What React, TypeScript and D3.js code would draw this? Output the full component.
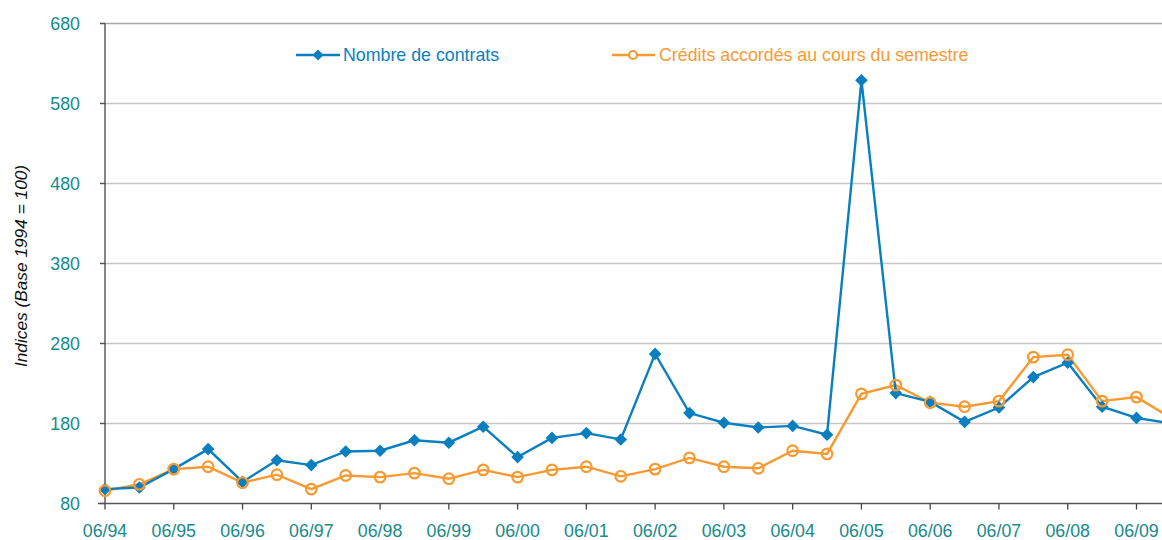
import React from "react";
import * as d3 from "d3";

const periods = [
  "06/94","12/94","06/95","12/95","06/96","12/96","06/97","12/97","06/98","12/98",
  "06/99","12/99","06/00","12/00","06/01","12/01","06/02","12/02","06/03","12/03",
  "06/04","12/04","06/05","12/05","06/06","12/06","06/07","12/07","06/08","12/08",
  "06/09","12/09",
];
const contrats = [
  98, 100, 123, 148, 107, 134, 128, 145, 146, 159,
  156, 176, 138, 162, 168, 160, 267, 193, 181, 175,
  177, 166, 609, 218, 207, 182, 200, 238, 256, 201,
  187, 180,
];
const credits = [
  96, 104, 123, 126, 106, 116, 98, 115, 113, 118,
  111, 122, 113, 122, 126, 114, 123, 137, 126, 124,
  146, 142, 217, 228, 206, 201, 208, 263, 266, 208,
  213, 187,
];
const yTicks = [80, 180, 280, 380, 480, 580, 680];
const xTickLabels = ["06/94","06/95","06/96","06/97","06/98","06/99","06/00","06/01","06/02","06/03","06/04","06/05","06/06","06/07","06/08","06/09"];
const seriesNames = ["Nombre de contrats", "Crédits accordés au cours du semestre"];

const W = 1162;
const H = 540;
const BLUE = "#0a7fc0";
const ORANGE = "#f89a32";
const TEAL = "#178a8a";
const FONT = "'Liberation Sans', Arial, sans-serif";

export default function App() {
  const x = d3.scaleLinear().domain([0, 30]).range([105, 1136.5]);
  const y = d3.scaleLinear().domain([80, 680]).range([503.5, 23.5]);
  const line = d3
    .line<number>()
    .x((_, i) => x(i))
    .y((d) => y(d));
  const diamond = (cx: number, cy: number, r: number) =>
    `M${cx},${cy - r}L${cx + r},${cy}L${cx},${cy + r}L${cx - r},${cy}Z`;

  return (
    <svg
      width={W}
      height={H}
      style={{ position: "absolute", left: 0, top: 0, background: "#fff" }}
      fontFamily={FONT}
    >
      <defs>
        <clipPath id="plot">
          <rect x={0} y={0} width={W} height={H} />
        </clipPath>
      </defs>
      {/* gridlines */}
      {yTicks.map((t) => (
        <g key={t}>
          {t !== 80 && (
            <line x1={100} x2={W} y1={y(t)} y2={y(t)} stroke={t === 680 ? "#a8a8a8" : "#c6c6c6"} strokeWidth={1.3} />
          )}
          <line x1={100} x2={105} y1={y(t)} y2={y(t)} stroke="#555" strokeWidth={1.3} />
          <text x={80} y={y(t)} textAnchor="end" dominantBaseline="central" fill={TEAL} fontSize={17.8}>
            {t}
          </text>
        </g>
      ))}
      {/* axes */}
      <line x1={105} x2={105} y1={y(680)} y2={y(80)} stroke="#444" strokeWidth={1.3} />
      <line x1={98} x2={W} y1={y(80)} y2={y(80)} stroke="#555" strokeWidth={1.6} />
      {xTickLabels.map((lab, k) => (
        <g key={lab}>
          <line x1={x(k * 2)} x2={x(k * 2)} y1={y(80)} y2={y(80) + 6} stroke="#444" strokeWidth={1.3} />
          <text x={x(k * 2)} y={531} textAnchor="middle" dominantBaseline="central" fill={TEAL} fontSize={17.8}>
            {lab}
          </text>
        </g>
      ))}
      <text
        transform={`translate(21,266) rotate(-90)`}
        textAnchor="middle"
        dominantBaseline="central"
        fontStyle="italic"
        fontSize={17.3}
        fill="#111"
      >
        Indices (Base 1994 = 100)
      </text>

      {/* series */}
      <g clipPath="url(#plot)">
        <path d={line(credits) || ""} fill="none" stroke={ORANGE} strokeWidth={2.4} />
        <path d={line(contrats) || ""} fill="none" stroke={BLUE} strokeWidth={2.4} />
        {contrats.map((v, i) => (
          <path key={"b" + i} d={diamond(x(i), y(v), 6.3)} fill={BLUE} />
        ))}
        {credits.map((v, i) => (
          <circle key={"o" + i} cx={x(i)} cy={y(v)} r={5.3} fill="none" stroke={ORANGE} strokeWidth={2.2} />
        ))}
      </g>

      {/* legend */}
      <line x1={296} x2={340} y1={55} y2={55} stroke={BLUE} strokeWidth={2.4} />
      <path d={diamond(318, 55, 5.5)} fill={BLUE} />
      <text x={343} y={55} dominantBaseline="central" fill={BLUE} fontSize={17.8}>
        {seriesNames[0]}
      </text>
      <line x1={612} x2={655} y1={55} y2={55} stroke={ORANGE} strokeWidth={2.4} />
      <circle cx={633} cy={55} r={4} fill="#fff" stroke={ORANGE} strokeWidth={2.2} />
      <text x={659} y={55} dominantBaseline="central" fill={ORANGE} fontSize={17.8}>
        {seriesNames[1]}
      </text>
    </svg>
  );
}
